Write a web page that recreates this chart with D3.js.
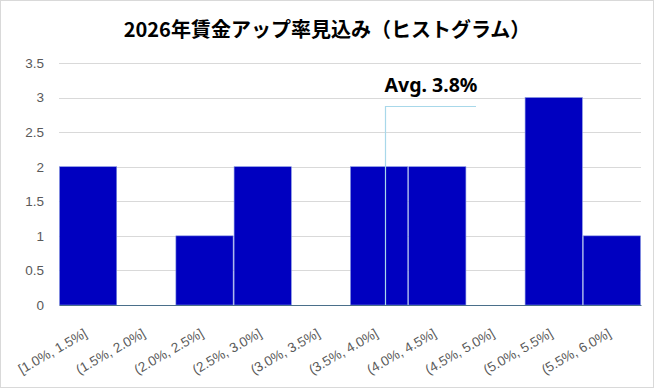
<!DOCTYPE html>
<html><head><meta charset="utf-8">
<script src="https://cdn.jsdelivr.net/npm/d3@7"></script>
<style>html,body{margin:0;padding:0;background:#fff;}svg{display:block;}</style>
</head><body>
<script>
const categories = ["[1.0%, 1.5%]","(1.5%, 2.0%]","(2.0%, 2.5%]","(2.5%, 3.0%]","(3.0%, 3.5%]","(3.5%, 4.0%]","(4.0%, 4.5%]","(4.5%, 5.0%]","(5.0%, 5.5%]","(5.5%, 6.0%]"];
const counts = [2,0,1,2,0,2,2,0,3,1];
const yTicks = [0,0.5,1,1.5,2,2.5,3,3.5];
const binStart = 1.0, binWidth = 0.5;
const avgValue = 3.8;
const avgLabel = "Avg. 3.8%";
const title = "2026年賃金アップ率見込み（ヒストグラム）";

(function(){
const W = 654, H = 388;
const svg = d3.select("body").append("svg").attr("width", W).attr("height", H);
svg.append("rect").attr("x",0.5).attr("y",0.5).attr("width",W-1).attr("height",H-1)
  .attr("fill","#fff").attr("stroke","#d9d9d9");

const mL = 59, mR = 641, mT = 63, mB = 305;
const x = d3.scaleBand().domain(categories).range([mL, mR]).padding(0);
const y = d3.scaleLinear().domain([0, 3.5]).range([mB, mT]);
const xv = d3.scaleLinear().domain([binStart, binStart + binWidth*categories.length]).range([mL, mR]);

svg.append("text").attr("x", 327).attr("y", 37).attr("text-anchor","middle")
  .attr("font-family","'Noto Sans CJK JP', sans-serif").attr("font-weight","bold")
  .attr("font-size", 20).attr("fill","#000").text(title);

// grid
svg.append("g").selectAll("line").data(yTicks.filter(d=>d>0)).join("line")
  .attr("x1", mL).attr("x2", mR).attr("y1", d=>Math.round(y(d))+0.5).attr("y2", d=>Math.round(y(d))+0.5)
  .attr("stroke","#d9d9d9").attr("stroke-width",1);

// y axis labels
const yAxis = d3.axisLeft(y).tickValues(yTicks).tickSize(0).tickPadding(0).tickFormat(d3.format("~g"));
const gy = svg.append("g").attr("transform", `translate(${mL-15},0)`).call(yAxis);
gy.select(".domain").remove();
gy.selectAll("text").attr("font-family","'Liberation Sans', Arial, sans-serif").attr("font-size",13.5).attr("fill","#595959");

// bars
svg.append("g").selectAll("rect").data(counts).join("rect")
  .attr("x", (d,i)=>x(categories[i])+0.5).attr("width", x.bandwidth()-1)
  .attr("y", d=>y(d)).attr("height", d=>y(0)-y(d))
  .attr("fill","#0000c0").attr("stroke","#7f8fe0").attr("stroke-width",0.6);

// x axis
const xAxis = d3.axisBottom(x).tickSize(0).tickPadding(0);
const gx = svg.append("g").attr("transform", `translate(0,${mB})`).call(xAxis);
gx.select(".domain").attr("stroke","#4a6f8a");
gx.selectAll("text").attr("font-family","'Liberation Sans', Arial, sans-serif").attr("font-size",13.5).attr("fill","#595959")
  .attr("text-anchor","end").attr("y",0).attr("dy","0")
  .attr("transform", "translate(0,31) rotate(-30)");

// avg marker
const ax = Math.round(xv(avgValue))+0.5;
svg.append("path").attr("d", `M${ax},${y(0)}V${106.5}H${476}`)
  .attr("fill","none").attr("stroke","#a8d8ea").attr("stroke-width",1.2);
svg.append("text").attr("x", 431).attr("y", 92).attr("text-anchor","middle")
  .attr("font-family","'Noto Sans', sans-serif").attr("font-weight","bold")
  .attr("font-size",19.5).attr("fill","#000").text(avgLabel);
})();
</script>
</body></html>
